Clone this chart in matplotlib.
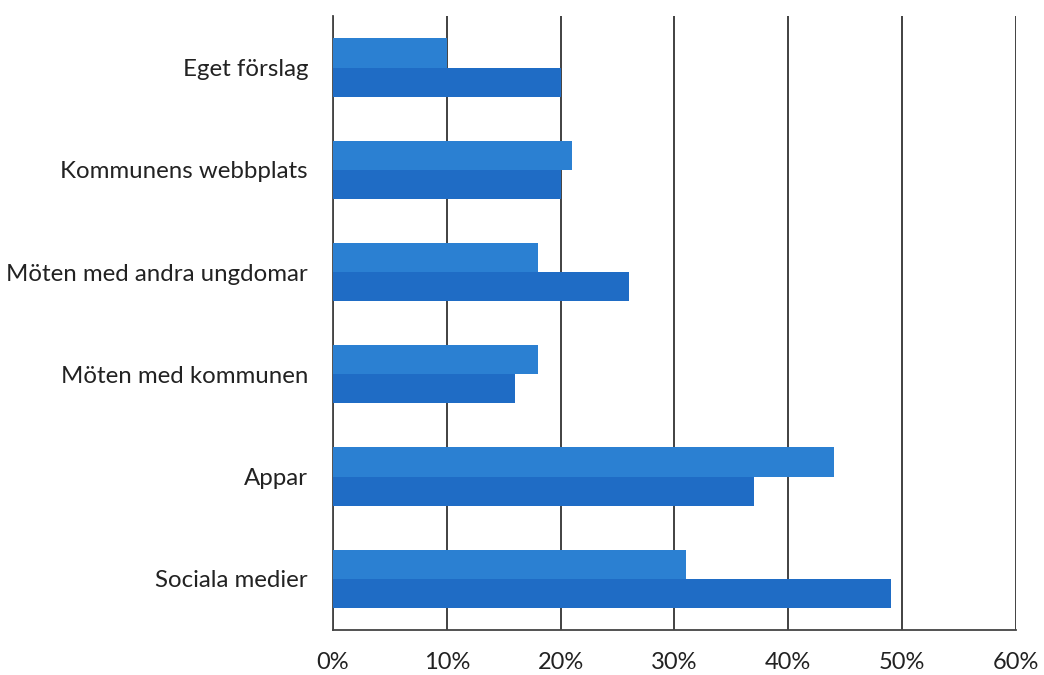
import matplotlib
matplotlib.use("Agg")
import matplotlib.pyplot as plt
import numpy as np

categories = ["Sociala medier", "Appar", "Möten med kommunen",
              "Möten med andra ungdomar", "Kommunens webbplats", "Eget förslag"]
series_top = [31, 44, 18, 18, 21, 10]
series_bottom = [49, 37, 16, 26, 20, 20]
xticks = [0, 10, 20, 30, 40, 50, 60]

plt.rcParams['font.family'] = ['Lato', 'DejaVu Sans']

fig = plt.figure(figsize=(10.44, 6.75), dpi=100)
ax = fig.add_axes([0.319, 0.0667, 0.654, 0.909])

y = np.arange(len(categories))
h = 0.285
ax.barh(y + h / 2, series_top, height=h, color="#2b80d2", zorder=3)
ax.barh(y - h / 2, series_bottom, height=h, color="#1f6cc5", zorder=3)

ax.set_xlim(0, 60)
ax.set_ylim(-0.5, len(categories) - 0.5)
ax.set_xticks(xticks)
ax.set_xticklabels([f"{t}%" for t in xticks], fontsize=17, color="#222222")
ax.set_yticks(y)
ax.set_yticklabels(categories, fontsize=17.3, color="#222222")
ax.tick_params(length=0, pad=16, axis="x")
ax.tick_params(length=0, pad=18, axis="y")

ax.xaxis.grid(True, color="#333333", linewidth=1.3, zorder=1)
for s in ["top", "right"]:
    ax.spines[s].set_visible(False)
for s in ["left", "bottom"]:
    ax.spines[s].set_color("#444444")
    ax.spines[s].set_linewidth(1.3)

fig.savefig("out.png", dpi=100)
